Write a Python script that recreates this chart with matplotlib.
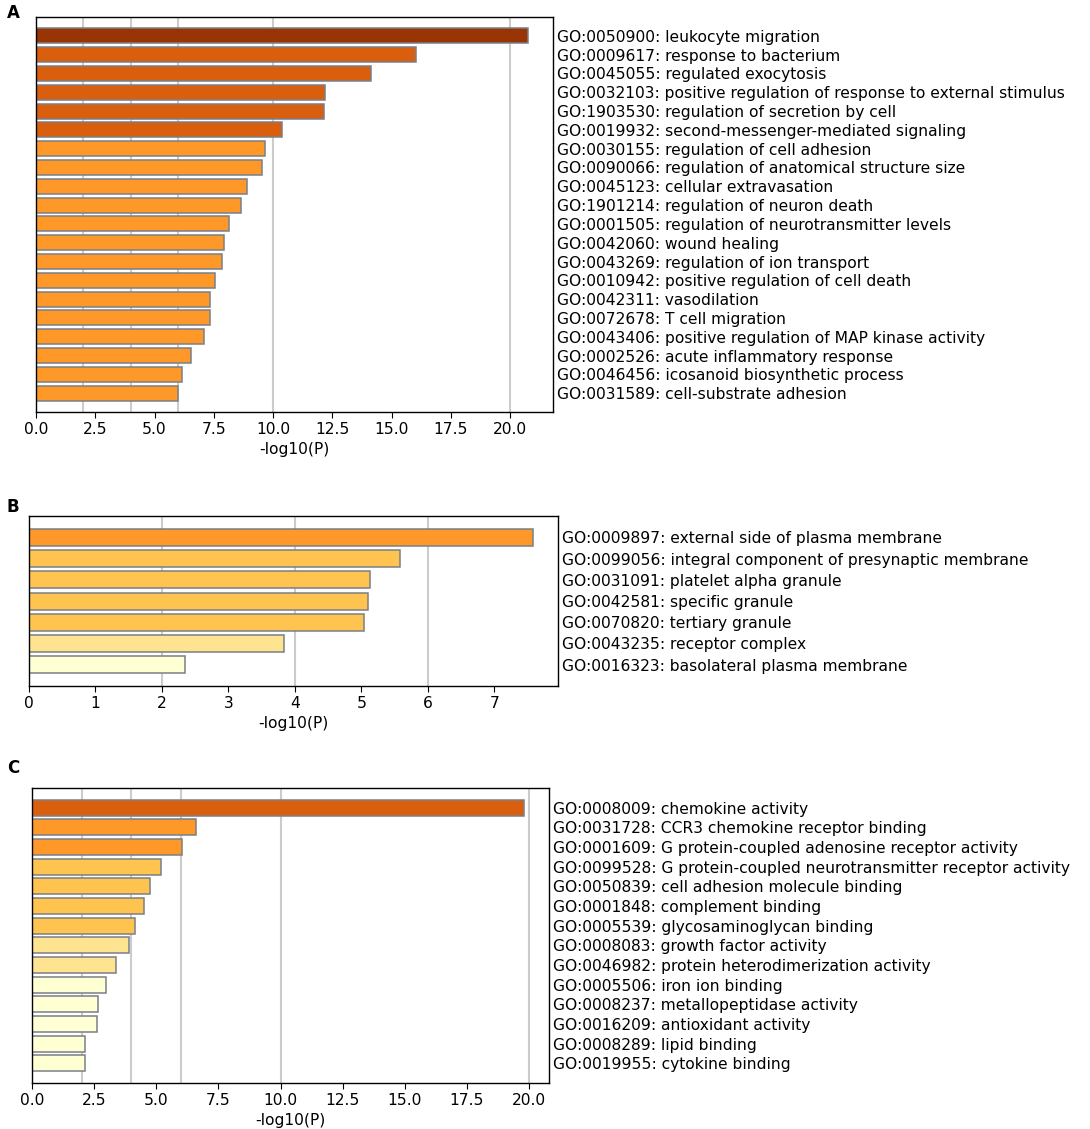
import numpy as np
import matplotlib
matplotlib.use("Agg")
import matplotlib.pyplot as plt

# A: biological process
bp_terms = [
    "GO:0050900: leukocyte migration",
    "GO:0009617: response to bacterium",
    "GO:0045055: regulated exocytosis",
    "GO:0032103: positive regulation of response to external stimulus",
    "GO:1903530: regulation of secretion by cell",
    "GO:0019932: second-messenger-mediated signaling",
    "GO:0030155: regulation of cell adhesion",
    "GO:0090066: regulation of anatomical structure size",
    "GO:0045123: cellular extravasation",
    "GO:1901214: regulation of neuron death",
    "GO:0001505: regulation of neurotransmitter levels",
    "GO:0042060: wound healing",
    "GO:0043269: regulation of ion transport",
    "GO:0010942: positive regulation of cell death",
    "GO:0042311: vasodilation",
    "GO:0072678: T cell migration",
    "GO:0043406: positive regulation of MAP kinase activity",
    "GO:0002526: acute inflammatory response",
    "GO:0046456: icosanoid biosynthetic process",
    "GO:0031589: cell-substrate adhesion",
]
bp_logp = [20.77, 16.02, 14.14, 12.20, 12.14, 10.38, 9.64, 9.53, 8.92, 8.63,
           8.13, 7.91, 7.83, 7.53, 7.36, 7.33, 7.08, 6.52, 6.17, 6.01]

# B: cellular component
cc_terms = [
    "GO:0009897: external side of plasma membrane",
    "GO:0099056: integral component of presynaptic membrane",
    "GO:0031091: platelet alpha granule",
    "GO:0042581: specific granule",
    "GO:0070820: tertiary granule",
    "GO:0043235: receptor complex",
    "GO:0016323: basolateral plasma membrane",
]
cc_logp = [7.58, 5.58, 5.13, 5.10, 5.04, 3.83, 2.34]

# C: molecular function
mf_terms = [
    "GO:0008009: chemokine activity",
    "GO:0031728: CCR3 chemokine receptor binding",
    "GO:0001609: G protein-coupled adenosine receptor activity",
    "GO:0099528: G protein-coupled neurotransmitter receptor activity",
    "GO:0050839: cell adhesion molecule binding",
    "GO:0001848: complement binding",
    "GO:0005539: glycosaminoglycan binding",
    "GO:0008083: growth factor activity",
    "GO:0046982: protein heterodimerization activity",
    "GO:0005506: iron ion binding",
    "GO:0008237: metallopeptidase activity",
    "GO:0016209: antioxidant activity",
    "GO:0008289: lipid binding",
    "GO:0019955: cytokine binding",
]
mf_logp = [19.81, 6.59, 6.04, 5.18, 4.75, 4.49, 4.16, 3.91, 3.37, 2.96,
           2.67, 2.63, 2.15, 2.12]


def bar_color(v):
    # YlOrBr bins by -log10(P)
    if v >= 20:
        return "#993404"
    if v >= 10:
        return "#d95f0e"
    if v >= 6:
        return "#fe9929"
    if v >= 4:
        return "#fec44f"
    if v >= 3:
        return "#fee391"
    return "#ffffd4"


def draw_panel(ax, terms, vals, letter, letter_y):
    n = len(vals)
    y = np.arange(n)
    xmax = max(vals) * 1.05
    for g in [2, 4, 6, 10, 20]:
        if g < xmax:
            ax.axvline(g, color="#cccccc", lw=1.5, zorder=0)
    ax.barh(y, vals, height=0.8, color=[bar_color(v) for v in vals],
            edgecolor="#7a7f87", linewidth=1.1, zorder=2)
    ax.set_xlim(0, xmax)
    ax.set_ylim(n, -1)
    ax.yaxis.tick_right()
    ax.set_yticks(y)
    ax.set_yticklabels(terms, fontsize=11.2)
    ax.tick_params(axis="y", length=0, pad=3)
    ax.tick_params(axis="x", labelsize=11.2, length=4)
    ax.set_xlabel("-log10(P)", fontsize=11.2, labelpad=3)
    for s in ax.spines.values():
        s.set_linewidth(1.0)
    fig.text(7 / W, 1 - letter_y / H, letter, fontsize=12, fontweight="bold",
             ha="left", va="baseline")


W, H = 1090, 1129
fig = plt.figure(figsize=(W / 100, H / 100), dpi=100)

ax_a = fig.add_axes([36 / W, (H - 412) / H, 517 / W, 395 / H])
ax_b = fig.add_axes([29 / W, (H - 686) / H, 529 / W, 170 / H])
ax_c = fig.add_axes([32 / W, (H - 1083) / H, 517 / W, 295 / H])

draw_panel(ax_a, bp_terms, bp_logp, "A", 18)
draw_panel(ax_b, cc_terms, cc_logp, "B", 512)
draw_panel(ax_c, mf_terms, mf_logp, "C", 773)

fig.savefig("out.png", dpi=100)
